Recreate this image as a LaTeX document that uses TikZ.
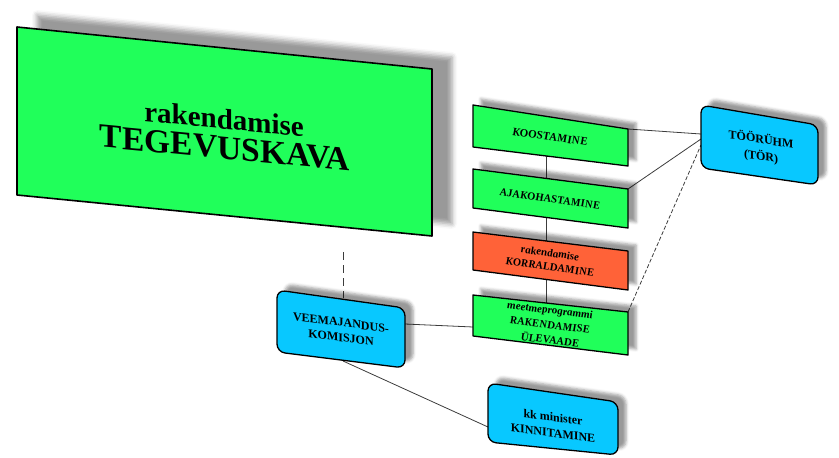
\documentclass[tikz,border=0pt]{standalone}
\usepackage{fontspec}
\setmainfont{Liberation Serif}
\usetikzlibrary{shadows.blur}
\definecolor{boxgreen}{RGB}{32,255,90}
\definecolor{boxorange}{RGB}{255,98,56}
\definecolor{boxblue}{RGB}{8,200,255}
\definecolor{linegray}{RGB}{60,60,60}
\tikzset{
  boxshape/.style={draw=black, line width=1.3pt, line join=round,
    blur shadow={shadow xshift=8pt, shadow yshift=6pt, shadow blur radius=3pt, shadow opacity=40}},
  bigshape/.style={draw=black, line width=1.6pt, line join=round,
    blur shadow={shadow xshift=20pt, shadow yshift=12pt, shadow blur radius=5pt, shadow opacity=40}},
  conn/.style={draw=linegray, line width=0.8pt},
  dconn/.style={conn, dash pattern=on 4pt off 2pt},
  txt/.style={transform shape, inner sep=0pt, align=center, font=\bfseries\fontsize{12}{16}\selectfont},
  itxt/.style={txt, font=\bfseries\itshape\fontsize{11}{15}\selectfont},
}
\begin{document}
\begin{tikzpicture}[x=1pt,y=-1pt]
\useasboundingbox (0,0) rectangle (839,458);

% attachment coordinates
\coordinate (bigB) at (343,252);
\coordinate (vmT) at (343,298);
\coordinate (vmR) at (405,324);
\coordinate (vmB) at (343,361);
\coordinate (kooR) at (628,129);
\coordinate (kooB) at (546,156);
\coordinate (ajaT) at (546,178);
\coordinate (ajaR) at (628,189);
\coordinate (ajaB) at (546,217);
\coordinate (korT) at (546,241);
\coordinate (korB) at (546,279);
\coordinate (meeT) at (546,303);
\coordinate (meeL) at (473,327);
\coordinate (meeR) at (628,312);
\coordinate (torA) at (701,134);
\coordinate (torB) at (701,139);
\coordinate (torC) at (701,145);
\coordinate (kkL) at (488,427);

% connectors
\draw[dconn, dash pattern=on 8pt off 5pt] (bigB) -- (vmT);
\draw[conn] (kooB) -- (ajaT);
\draw[conn] (ajaB) -- (korT);
\draw[conn] (korB) -- (meeT);
\draw[conn] (kooR) -- (torA);
\draw[conn] (ajaR) -- (torB);
\draw[dconn] (meeR) -- (torC);
\draw[conn] (vmR) -- (meeL);
\draw[conn] (vmB) -- (kkL);

% boxes
\path[bigshape, fill=boxgreen] (17,27) -- (432,69) -- (432,236) -- (17,195) -- cycle;
\path[boxshape, fill=boxgreen] (473,105) -- (628,129) -- (628,166) -- (473,147) -- cycle;
\path[boxshape, fill=boxgreen] (473,169) -- (628,189) -- (628,228) -- (473,208) -- cycle;
\path[boxshape, fill=boxorange] (473,232) -- (628,251) -- (628,290) -- (473,270) -- cycle;
\path[boxshape, fill=boxgreen] (473,295) -- (628,312) -- (628,355) -- (473,336) -- cycle;
\path[boxshape, fill=boxblue, rounded corners=8pt] (701,105) -- (818,125) -- (818,185) -- (701,168) -- cycle;
\path[boxshape, fill=boxblue, rounded corners=8pt] (277,290) -- (405,308) -- (405,368) -- (277,352) -- cycle;
\path[boxshape, fill=boxblue, rounded corners=8pt] (488,383) -- (618,402) -- (618,455) -- (488,442) -- cycle;

% texts
\begin{scope}[shift={(224,119)}, yslant=-0.095]
  \node[txt, font=\bfseries\fontsize{29}{31}\selectfont] (bigA) at (0,0) {rakendamise};
\end{scope}
\begin{scope}[shift={(225,148)}, yslant=-0.095]
  \node[txt, font=\bfseries\fontsize{33.5}{35}\selectfont] (bigT) at (0,0) {TEGEVUSKAVA};
\end{scope}
\begin{scope}[shift={(550,137)}, yslant=-0.14]
  \node[itxt, font=\bfseries\itshape\fontsize{11.5}{15}\selectfont] (koo) at (0,0) {KOOSTAMINE};
\end{scope}
\begin{scope}[shift={(550,199)}, yslant=-0.14]
  \node[itxt] (aja) at (0,0) {AJAKOHASTAMINE};
\end{scope}
\begin{scope}[shift={(550,260)}, yslant=-0.14]
  \node[itxt, font=\bfseries\itshape\fontsize{11}{14}\selectfont] (kor) at (0,0) {rakendamise\\KORRALDAMINE};
\end{scope}
\begin{scope}[shift={(550,325)}, yslant=-0.12]
  \node[itxt] (mee) at (0,0) {meetmeprogrammi\\RAKENDAMISE\\ÜLEVAADE};
\end{scope}
\begin{scope}[shift={(761,148)}, yslant=-0.16]
  \node[txt, font=\bfseries\fontsize{12}{17}\selectfont] (tor) at (0,0) {TÖÖRÜHM\\(TÖR)};
\end{scope}
\begin{scope}[shift={(341,330)}, yslant=-0.13]
  \node[txt, font=\bfseries\fontsize{12}{15}\selectfont] (vm) at (0,0) {VEEMAJANDUS-\\KOMISJON};
\end{scope}
\begin{scope}[shift={(553,425)}, yslant=-0.13]
  \node[txt] (kk) at (0,0) {kk minister\\KINNITAMINE};
\end{scope}
\end{tikzpicture}
\end{document}
